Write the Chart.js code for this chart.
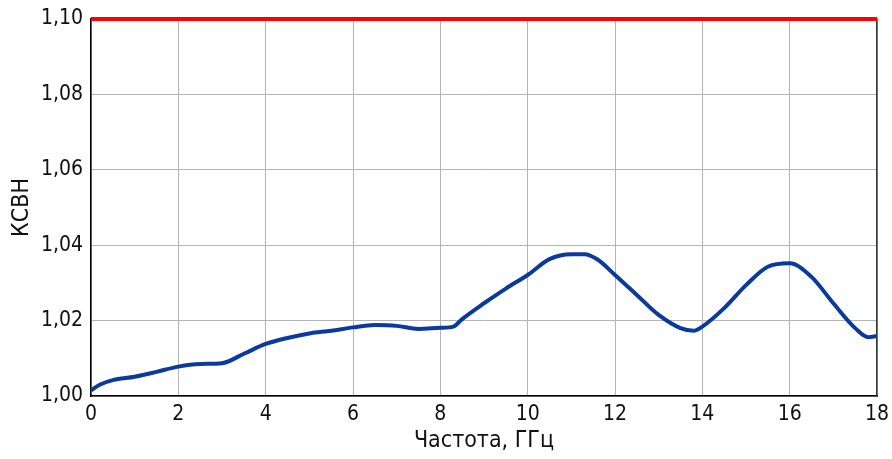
<!DOCTYPE html>
<html>
<head>
<meta charset="utf-8">
<script src="https://cdn.jsdelivr.net/npm/chart.js@4"></script>
<style>
  html, body { margin: 0; padding: 0; background: #fff; }
  #wrap { width: 892px; height: 459px; }
</style>
</head>
<body>
<div id="wrap"><canvas id="chart1"></canvas></div>
<script>
// frequency, GHz
const freq = [0, 0.2, 0.5, 1, 1.5, 2, 2.5, 3, 3.5, 4, 4.5, 5, 5.5, 6, 6.5, 7, 7.5, 8, 8.3, 8.5,
    9, 9.5, 10, 10.5, 11, 11.3, 11.6, 12, 12.5, 13, 13.5, 13.8, 14, 14.5, 15, 15.5, 16, 16.5, 17, 17.5, 17.8, 18];
// VSWR
const vswr = [1.0015, 1.003, 1.0042, 1.0051, 1.0064, 1.0078, 1.0085, 1.0087, 1.0112, 1.0138, 1.0154, 1.0166, 1.0173, 1.0182, 1.0188, 1.0186, 1.0178, 1.0181, 1.0184, 1.0204,
    1.0246, 1.0285, 1.0321, 1.0363, 1.0376, 1.0376, 1.0362, 1.0321, 1.0268, 1.0215, 1.018, 1.0173, 1.0184, 1.0233, 1.0294, 1.0343, 1.0352, 1.0316, 1.0246, 1.018, 1.0156, 1.0159];
const limitFreq = [0, 18];
const limitVswr = [1.10, 1.10];

const xTicks = [0, 2, 4, 6, 8, 10, 12, 14, 16, 18];
const yTicks = [1.00, 1.02, 1.04, 1.06, 1.08, 1.10];

const fontFamily = "'DejaVu Sans Condensed', 'DejaVu Sans', sans-serif";

const ctx = document.getElementById('chart1').getContext('2d');
new Chart(ctx, {
    type: 'line',
    data: {
        datasets: [
            {
                label: 'Предел',
                data: limitFreq.map((f, i) => ({ x: f, y: limitVswr[i] })),
                borderColor: '#ff0000',
                borderWidth: 4,
                pointRadius: 0,
                clip: false
            },
            {
                label: 'КСВН',
                data: freq.map((f, i) => ({ x: f, y: vswr[i] })),
                borderColor: '#0a3a9c',
                borderWidth: 4,
                pointRadius: 0,
                cubicInterpolationMode: 'monotone'
            }
        ]
    },
    options: {
        animation: false,
        responsive: true,
        maintainAspectRatio: false,
        layout: { padding: { left: 0, right: 15, top: 19, bottom: 0 } },
        plugins: { legend: { display: false }, tooltip: { enabled: false } },
        scales: {
            x: {
                type: 'linear',
                min: 0, max: 18,
                afterBuildTicks: s => { s.ticks = xTicks.map(v => ({ value: v })); },
                afterFit: s => { s.height = 63; s.paddingLeft = 0; s.paddingRight = 0; },
                grid: { color: '#b4b4b4', lineWidth: 1, drawTicks: false },
                border: { color: '#000', width: 1.5 },
                ticks: { color: '#111', font: { family: fontFamily, size: 21 }, padding: 6, maxRotation: 0 },
                title: { display: true, text: 'Частота, ГГц', color: '#111', font: { family: fontFamily, size: 23 }, padding: { top: 1 } }
            },
            y: {
                min: 1.0, max: 1.10,
                afterBuildTicks: s => { s.ticks = yTicks.map(v => ({ value: v })); },
                afterFit: s => { s.width = 91; s.paddingTop = 0; s.paddingBottom = 0; },
                grid: { color: '#b4b4b4', lineWidth: 1, drawTicks: false },
                border: { color: '#000', width: 1.5 },
                ticks: {
                    color: '#111', font: { family: fontFamily, size: 21 }, padding: 8,
                    callback: v => v.toFixed(2).replace('.', ',')
                },
                title: { display: true, text: 'КСВН', color: '#111', font: { family: fontFamily, size: 23 }, padding: { top: 8, bottom: 6 } }
            },
            y2: {
                position: 'right',
                min: 1.0, max: 1.10,
                afterFit: s => { s.width = 0; },
                grid: { display: false },
                border: { color: '#333', width: 1.5 },
                ticks: { display: false }
            }
        }
    }
});
</script>
</body>
</html>
